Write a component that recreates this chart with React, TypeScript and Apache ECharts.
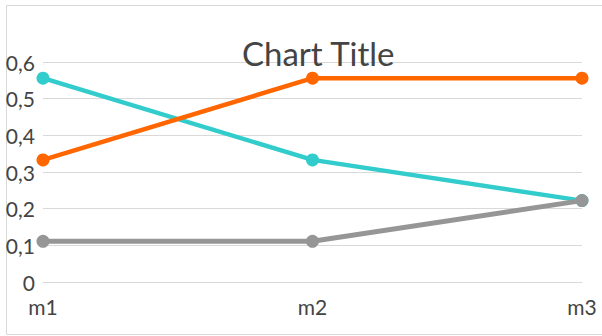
import React, { useEffect, useRef } from "react";
import * as echarts from "echarts";

const categories = ["m1", "m2", "m3"];
const cyanValues = [0.556, 0.333, 0.222];
const orangeValues = [0.333, 0.556, 0.556];
const grayValues = [0.111, 0.111, 0.222];
const titleText = "Chart Title";

const FONT = "Lato, 'Open Sans', sans-serif";
const LABEL_COLOR = "#444444";

function lineSeries(name: string, data: number[], color: string, width: number) {
  return {
    name,
    type: "line",
    data,
    symbol: "circle",
    symbolSize: 13,
    lineStyle: { color, width },
    itemStyle: { color },
  };
}

export default function App() {
  const ref = useRef<HTMLDivElement>(null);

  useEffect(() => {
    if (!ref.current) return;
    const chart = echarts.init(ref.current, undefined, { renderer: "svg" });
    chart.setOption({
      animation: false,
      backgroundColor: "#ffffff",
      textStyle: { fontFamily: FONT },
      title: {
        text: titleText,
        left: 242,
        top: 36,
        padding: 0,
        textStyle: {
          fontFamily: FONT,
          fontSize: 33,
          fontWeight: "normal",
          color: LABEL_COLOR,
        },
      },
      graphic: [
        {
          type: "rect",
          shape: { x: 6.5, y: 5.5, width: 620, height: 329 },
          style: { fill: "none", stroke: "#d9d9d9", lineWidth: 1 },
          silent: true,
          z: -1,
        },
      ],
      grid: { left: 43, right: 20, top: 62, bottom: 54 },
      xAxis: {
        type: "category",
        data: categories,
        boundaryGap: false,
        axisLine: { show: true, lineStyle: { color: "#d9d9d9" } },
        axisTick: { show: false },
        axisLabel: {
          color: LABEL_COLOR,
          fontFamily: FONT,
          fontSize: 21,
          margin: 14,
          interval: 0,
        },
      },
      yAxis: {
        type: "value",
        min: 0,
        max: 0.6,
        interval: 0.1,
        axisLine: { show: false },
        axisTick: { show: false },
        splitLine: { lineStyle: { color: "#d9d9d9", width: 1 } },
        axisLabel: {
          color: LABEL_COLOR,
          fontFamily: FONT,
          fontSize: 21,
          margin: 8,
          formatter: (v: number) =>
            v === 0 ? "0" : (Math.round(v * 10) / 10).toString().replace(".", ","),
        },
      },
      series: [
        lineSeries("cyan", cyanValues, "#33cccc", 4.5),
        lineSeries("orange", orangeValues, "#ff6600", 4.5),
        lineSeries("gray", grayValues, "#969696", 5),
      ],
    });
    return () => chart.dispose();
  }, []);

  return (
    <div
      ref={ref}
      style={{ position: "fixed", left: 0, top: 0, width: 602, height: 336 }}
    />
  );
}
